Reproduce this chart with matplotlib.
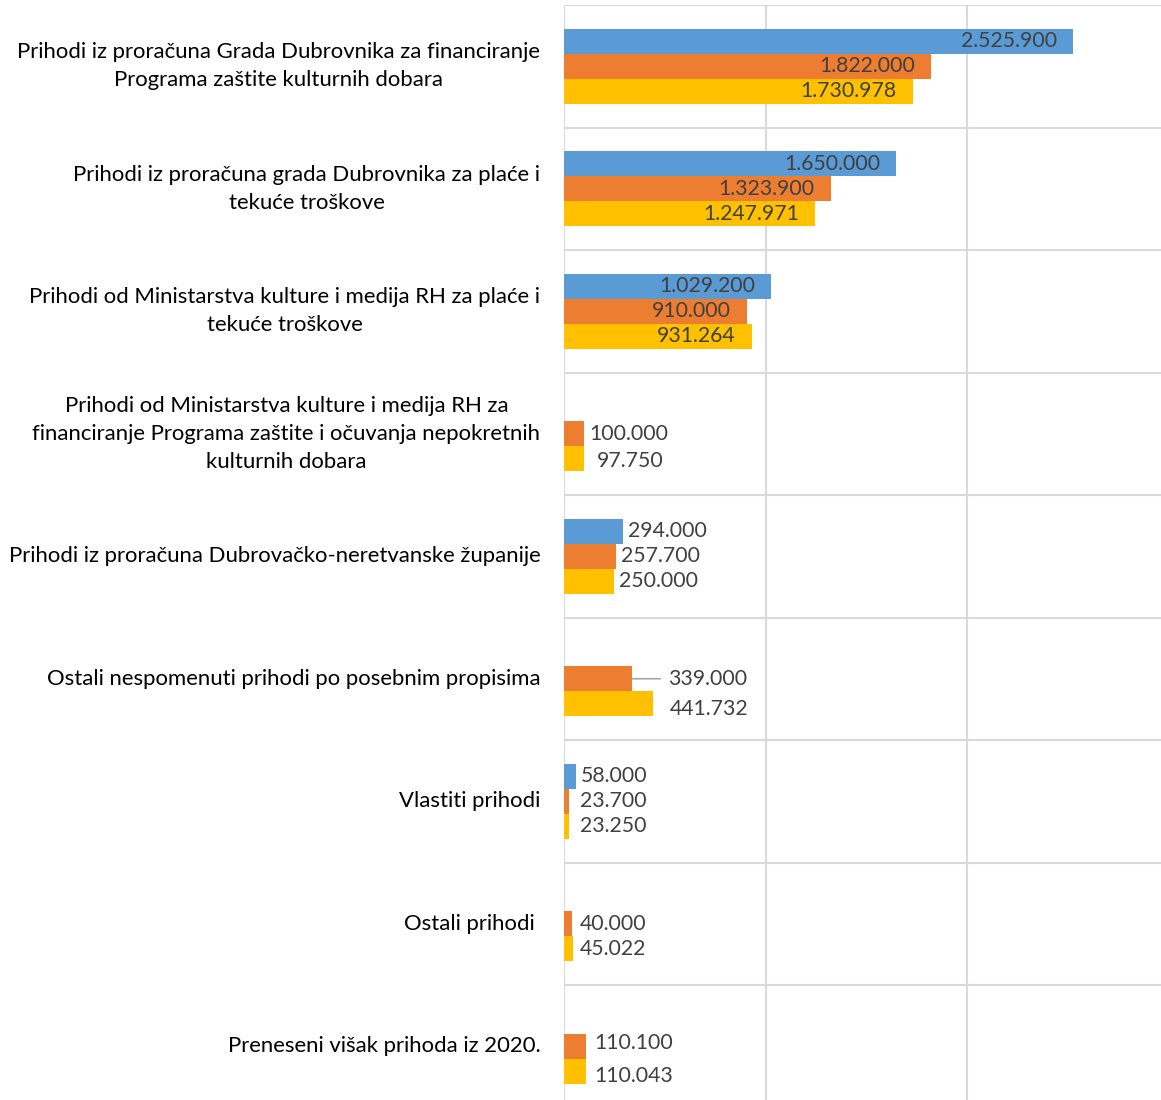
import numpy as np
import matplotlib.pyplot as plt
from matplotlib.transforms import ScaledTranslation

categories = [
    "Prihodi iz proračuna Grada Dubrovnika za financiranje\nPrograma zaštite kulturnih dobara",
    "Prihodi iz proračuna grada Dubrovnika za plaće i\ntekuće troškove",
    "Prihodi od Ministarstva kulture i medija RH za plaće i\ntekuće troškove",
    "Prihodi od Ministarstva kulture i medija RH za\nfinanciranje Programa zaštite i očuvanja nepokretnih\nkulturnih dobara",
    "Prihodi iz proračuna Dubrovačko-neretvanske županije",
    "Ostali nespomenuti prihodi po posebnim propisima",
    "Vlastiti prihodi",
    "Ostali prihodi ",
    "Preneseni višak prihoda iz 2020.",
]
blue_vals = [2525900, 1650000, 1029200, np.nan, 294000, np.nan, 58000, np.nan, np.nan]
orange_vals = [1822000, 1323900, 910000, 100000, 257700, 339000, 23700, 40000, 110100]
yellow_vals = [1730978, 1247971, 931264, 97750, 250000, 441732, 23250, 45022, 110043]

series = [blue_vals, orange_vals, yellow_vals]
colors = ['#5B9BD5', '#ED7D31', '#FFC000']

plt.rcParams['font.family'] = ['Lato', 'DejaVu Sans']

W, H = 1161, 1100
fig = plt.figure(figsize=(W / 100, H / 100), dpi=100)
# axes: x=0 at 564px, 1M = 201.5px; top at 5px, category height 122.5px
x0, px_per_m = 564, 201.5
top, cat_h = 5, 122.5
n = len(categories)
ax = fig.add_axes([x0 / W, 1 - (top + n * cat_h) / H,
                   3 * px_per_m / W, n * cat_h / H])
ax.set_xlim(0, 3e6)
ax.set_ylim(n - 0.5, -0.5)

y = np.arange(n)
h = 0.205
for k, (vals, c) in enumerate(zip(series, colors)):
    ax.barh(y + (k - 1) * h, vals, height=h, color=c, zorder=3)

def fmt(v):
    return f"{v:,.0f}".replace(',', '.')

# small manual nudges (pixels, dy>0 means down) for crowded labels
nudges = {(3, 2): (13, 2), (5, 2): (17, 5), (8, 1): (8, -3), (8, 2): (8, 5)}

lab_col = '#404040'
for k, vals in enumerate(series):
    for i, v in enumerate(vals):
        if np.isnan(v):
            continue
        yy = i + (k - 1) * h
        if v > 5e5:
            ax.annotate(fmt(v), (v, yy), xytext=(-16, 0), textcoords='offset pixels',
                        ha='right', va='center', fontsize=15.3, color=lab_col, zorder=4)
            continue
        if i == 5 and k == 1:
            # label with leader line
            ax.annotate(fmt(v), (v, yy), xytext=(36, 0), textcoords='offset pixels',
                        ha='left', va='center', fontsize=15.3, color=lab_col, zorder=4)
            ax.annotate('', (v, yy), xytext=(28, 0), textcoords='offset pixels',
                        arrowprops=dict(arrowstyle='-', color='#a6a6a6', lw=1.2,
                                        shrinkA=0, shrinkB=0))
            continue
        bar_px = v / 1e6 * px_per_m
        dx, dy = max(5, 16 - bar_px), 0
        if (i, k) in nudges:
            dx, dy = nudges[(i, k)]
        ax.annotate(fmt(v), (v, yy), xytext=(dx, -dy), textcoords='offset pixels',
                    ha='left', va='center', fontsize=15.3, color=lab_col, zorder=4)

ax.set_yticks(y)
ax.set_yticklabels(categories, fontsize=15.9, color='black', multialignment='center',
                   linespacing=1.5)
ax.tick_params(axis='y', length=0, pad=17)
# lift the labels a little (multi-line ones more)
for lbl in ax.get_yticklabels():
    up = 6 if '\n' in lbl.get_text() else 2
    lbl.set_transform(lbl.get_transform() + ScaledTranslation(0, up / 100, fig.dpi_scale_trans))
ax.set_xticks([0, 1e6, 2e6, 3e6])
ax.tick_params(axis='x', length=0, labelbottom=False)
ax.grid(axis='x', color='#d9d9d9', lw=1.5, zorder=0)
for b in np.arange(n + 1) - 0.5:
    ax.axhline(b, color='#d9d9d9', lw=1.5, zorder=0)
for s in ax.spines.values():
    s.set_visible(False)

fig.savefig('out.png', dpi=100)
